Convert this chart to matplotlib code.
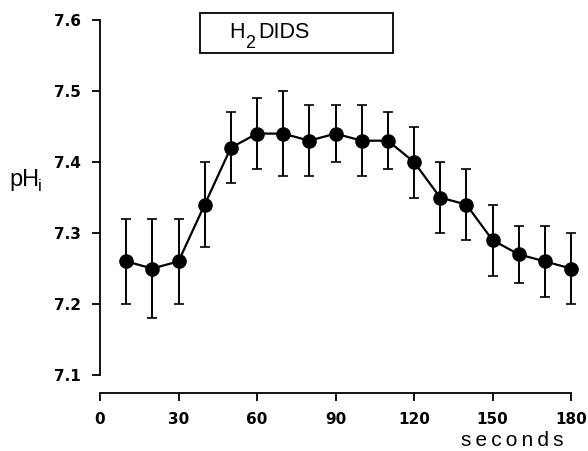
import numpy as np
import matplotlib
matplotlib.use("Agg")
import matplotlib.pyplot as plt
from matplotlib.patches import Rectangle

plt.rcParams["font.family"] = ["Liberation Sans", "DejaVu Sans"]
plt.rcParams["mathtext.default"] = "regular"

# data
seconds = [10, 20, 30, 40, 50, 60, 70, 80, 90, 100, 110, 120, 130, 140, 150, 160, 170, 180]
ph = [7.26, 7.25, 7.26, 7.34, 7.42, 7.44, 7.44, 7.43, 7.44, 7.43, 7.43, 7.40, 7.35, 7.34, 7.29, 7.27, 7.26, 7.25]
upper = [7.32, 7.32, 7.32, 7.40, 7.47, 7.49, 7.50, 7.48, 7.48, 7.48, 7.47, 7.45, 7.40, 7.39, 7.34, 7.31, 7.31, 7.30]
lower = [7.20, 7.18, 7.20, 7.28, 7.37, 7.39, 7.38, 7.38, 7.40, 7.38, 7.39, 7.35, 7.30, 7.29, 7.24, 7.23, 7.21, 7.20]
xticks = [0, 30, 60, 90, 120, 150, 180]
yticks = [7.1, 7.2, 7.3, 7.4, 7.5, 7.6]

ph = np.array(ph)
yerr = [ph - np.array(lower), np.array(upper) - ph]

W, H = 588, 451
fig = plt.figure(figsize=(W / 100, H / 100), dpi=100)
ax = fig.add_axes([100 / W, (H - 375) / H, (571 - 100) / W, (375 - 20) / H])

ax.errorbar(seconds, ph, yerr=yerr, color="black", lw=1.6, elinewidth=1.4,
            capsize=3.5, capthick=1.2, marker="o", ms=9.5, clip_on=False)

ax.set_xlim(0, 180)
ax.set_ylim(7.1, 7.6)
ax.set_xticks(xticks)
ax.set_yticks(yticks)
ax.set_yticklabels(["%.1f" % v for v in yticks])
for s in ["top", "right"]:
    ax.spines[s].set_visible(False)
ax.spines["bottom"].set_position(("outward", 13))
ax.spines["left"].set_linewidth(1.3)
ax.spines["bottom"].set_linewidth(1.3)
ax.tick_params(direction="out", length=6, width=1.3, pad=8)
for lab in ax.get_xticklabels() + ax.get_yticklabels():
    lab.set_fontweight("bold")
    lab.set_family("DejaVu Sans")
    lab.set_fontsize(11)

fig.text(461 / W, 1 - 446 / H, "s\u2009e\u2009c\u2009o\u2009n\u2009d\u2009s", fontsize=15,
         ha="left", va="baseline")

# pH with subscript i
fig.text(9 / W, 1 - 186 / H, "pH", fontsize=17, ha="left", va="baseline")
fig.text(38 / W, 1 - 191 / H, "i", fontsize=12, ha="left", va="baseline")

# label box
fig.patches.append(Rectangle((200 / W, 1 - 53 / H), 193 / W, 40 / H, transform=fig.transFigure,
                             fill=False, lw=1.3, edgecolor="black"))
fig.text(229 / W, 1 - 38 / H, "H", fontsize=15.5, ha="left", va="baseline")
fig.text(245 / W, 1 - 48 / H, "2", fontsize=13, ha="left", va="baseline")
fig.text(258 / W, 1 - 38 / H, "DIDS", fontsize=15.5, ha="left", va="baseline")

fig.savefig("out.png", dpi=100)
